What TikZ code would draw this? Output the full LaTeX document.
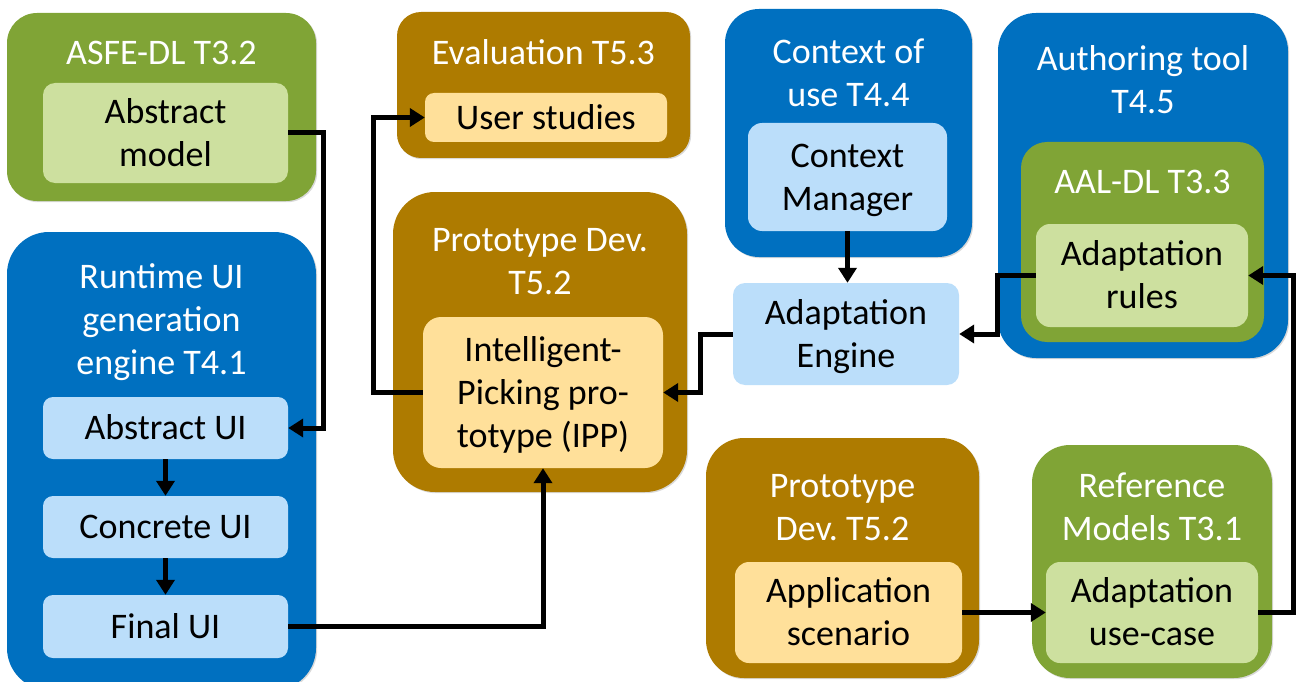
\documentclass[tikz,border=0pt]{standalone}
\usepackage{fontspec}
\setmainfont{Carlito}
\usetikzlibrary{arrows.meta,shadows}

\definecolor{blueD}{HTML}{0070C0}
\definecolor{blueL}{HTML}{BBDEFA}
\definecolor{greenD}{HTML}{80A436}
\definecolor{greenL}{HTML}{CDE09F}
\definecolor{goldD}{HTML}{AE7B00}
\definecolor{goldL}{HTML}{FFE09A}

% strut centred on the cap height, so every line box is centred on its letters
\newcommand\vs{\rule[-8.4pt]{0pt}{40pt}}
\frenchspacing

\begin{document}
\begin{tikzpicture}[x=1pt,y=-1pt,
  txt/.style={font=\fontsize{36}{43}\selectfont\frenchspacing, align=center, inner sep=0pt},
  panel/.style={rectangle, draw=none, inner sep=0pt, rounded corners=#1,
    drop shadow={shadow xshift=1.2pt, shadow yshift=-1.2pt, opacity=0.25, fill=black!60}},
  title/.style={txt, text=white},
  inbox/.style={rectangle, txt, text=black, draw=none, rounded corners=#1},
  conn/.style={draw=black, line width=5pt, -{Triangle[length=15pt,width=18pt]}}
]
\clip (0,0) rectangle (1296,682);
\useasboundingbox (0,0) rectangle (1296,682);

% ---------- ASFE-DL ----------
\node[panel=30pt, fill=greenD, minimum width=309pt, minimum height=188pt] (asfe) at (161.5,107) {};
\node[title] (asfe-t) at (161.5,53) {\vs ASFE-DL T3.2};
\node[inbox=12pt, fill=greenL, minimum width=245pt, minimum height=100pt] (absmodel) at (165.5,133) {\vs Abstract\\\vs model};

% ---------- Runtime UI generation engine ----------
\node[panel=42pt, fill=blueD, minimum width=309pt, minimum height=458pt] (rt) at (161.5,461) {};
\node[title] (rt-t) at (161.5,320) {\vs Runtime UI\\\vs generation\\\vs engine T4.1};
\node[inbox=10pt, fill=blueL, minimum width=245pt, minimum height=62pt] (absui) at (165.5,428) {\vs Abstract UI};
\node[inbox=10pt, fill=blueL, minimum width=245pt, minimum height=62pt] (concui) at (165.5,527) {\vs Concrete UI};
\node[inbox=10pt, fill=blueL, minimum width=245pt, minimum height=63pt] (finalui) at (165.5,626.5) {\vs Final UI};

% ---------- Evaluation ----------
\node[panel=24pt, fill=goldD, minimum width=293pt, minimum height=146pt] (eval) at (543.5,85) {};
\node[title] (eval-t) at (543.5,53) {\vs Evaluation T5.3};
\node[inbox=9pt, fill=goldL, minimum width=242pt, minimum height=49pt] (userst) at (546,117.5) {\vs User studies};

% ---------- Prototype development (IPP) ----------
\node[panel=42pt, fill=goldD, minimum width=294pt, minimum height=300pt] (protoA) at (540,342) {};
\node[title] (protoA-t) at (540,261) {\vs Prototype Dev.\\\vs T5.2};
\node[inbox=18pt, fill=goldL, minimum width=240pt, minimum height=151pt] (ipp) at (543,392.5) {\vs Intelligent-\\\vs Picking pro-\\\vs totype (IPP)};

% ---------- Context of use ----------
\node[panel=34pt, fill=blueD, minimum width=247pt, minimum height=248pt] (ctx) at (848.5,133) {};
\node[title] (ctx-t) at (848.5,73.5) {\vs Context of\\\vs use T4.4};
\node[inbox=14pt, fill=blueL, minimum width=199pt, minimum height=108pt] (cm) at (847.5,177) {\vs Context\\\vs Manager};

% ---------- Adaptation engine ----------
\node[inbox=12pt, fill=blueL, minimum width=226pt, minimum height=102pt] (ae) at (846,334) {\vs Adaptation\\\vs Engine};

% ---------- Authoring tool / AAL-DL ----------
\node[panel=38pt, fill=blueD, minimum width=290pt, minimum height=345pt] (auth) at (1143,185.5) {};
\node[title] (auth-t) at (1143,80) {\vs Authoring tool\\\vs T4.5};
\node[rectangle, draw=none, rounded corners=26pt, fill=greenD, minimum width=243pt, minimum height=200pt] (aal) at (1142.5,242) {};
\node[title] (aal-t) at (1142.5,182) {\vs AAL-DL T3.3};
\node[inbox=14pt, fill=greenL, minimum width=212pt, minimum height=103pt] (adrules) at (1142,275.5) {\vs Adaptation\\\vs rules};

% ---------- Prototype development (scenario) ----------
\node[panel=38pt, fill=goldD, minimum width=273pt, minimum height=240pt] (protoB) at (842.5,558) {};
\node[title] (protoB-t) at (842.5,507.5) {\vs Prototype\\\vs Dev. T5.2};
\node[inbox=14pt, fill=goldL, minimum width=227pt, minimum height=101pt] (appsc) at (848.5,612.5) {\vs Application\\\vs scenario};

% ---------- Reference models ----------
\node[panel=38pt, fill=greenD, minimum width=240pt, minimum height=233pt] (ref) at (1152,561.5) {};
\node[title] (ref-t) at (1152,507.5) {\vs Reference\\\vs Models T3.1};
\node[inbox=14pt, fill=greenL, minimum width=212pt, minimum height=101pt] (aduse) at (1152,612.5) {\vs Adaptation\\\vs use-case};

% ---------- connectors ----------
\draw[conn] (absmodel.east) -- ++(35,0) |- (absui.east);
\draw[conn] (absui.south) -- (concui.north);
\draw[conn] (concui.south) -- (finalui.north);
\draw[conn] (finalui.east) -| (ipp.south);
\draw[conn] (ipp.west) -- ++(-49,0) |- (userst.west);
\draw[conn] (cm.south) -- (ae.north -| cm.south);
\draw[conn] (ae.west) -- ++(-32,0) |- (ipp.east);
\draw[conn] (adrules.west) -- ++(-38,0) |- (ae.east);
\draw[conn] (appsc.east) -- (aduse.west);
\draw[conn] (aduse.east) -- ++(35,0) |- (adrules.east);
\end{tikzpicture}
\end{document}
